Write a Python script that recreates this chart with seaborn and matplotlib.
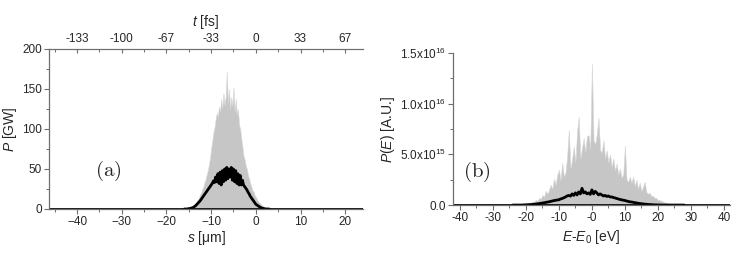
import numpy as np
import pandas as pd
import matplotlib
matplotlib.use("Agg")
import matplotlib.pyplot as plt
from matplotlib.ticker import MultipleLocator, FixedLocator
import seaborn as sns

# ----------------------------------------
# Dados
# ----------------------------------------
# (a) potência vs s, grade de -16 a 3 um, passo 0.25
s_start, s_step = -16.0, 0.25
p_gray = [0, 0, 0.5, 1, 1, 2, 2, 3, 4, 5,
          7, 9, 12, 14, 18, 20, 25, 28, 33, 37,
          43, 48, 56, 64, 76, 85, 96, 102, 112, 120,
          116, 128, 122, 138, 126, 145, 130, 140, 172, 132,
          150, 125, 140, 128, 152, 122, 138, 118, 125, 105,
          100, 88, 78, 66, 62, 54, 50, 42, 38, 32,
          28, 23, 22, 17, 15, 12, 10, 8, 7, 5,
          4, 2.5, 1.5, 1, 0.5, 0, 0]
p_mean = [0, 0, 0, 0.2, 0.4, 0.7, 1, 1.5, 2, 3,
          4, 5.5, 7, 8.5, 10, 12, 14, 16, 18, 20,
          22, 24, 26, 28, 30, 32, 35, 33, 40, 34,
          44, 32, 46, 30, 48, 34, 50, 36, 52, 38,
          50, 40, 52, 36, 50, 34, 48, 32, 44, 30,
          42, 30, 36, 30, 28, 26, 24, 21, 19, 16,
          14, 12, 10, 8, 6, 5, 4, 3, 2, 1.5,
          1, 0.6, 0.3, 0.1, 0, 0, 0]

# (b) espectro vs E-E0, grade de -24 a 28 eV, passo 0.5 (unidades de 1e15)
e_start, e_step = -24.0, 0.5
pe_gray = [0, 0, 0.05, 0.05, 0.1, 0.08, 0.15, 0.12, 0.2, 0.18,
           0.25, 0.2, 0.35, 0.3, 0.5, 0.4, 0.7, 0.6, 1.0, 0.8,
           1.4, 1.1, 1.5, 2.0, 1.6, 2.6, 2.0, 3.0, 3.5, 2.4,
           4.2, 2.8, 3.2, 4.8, 7.4, 3.6, 4.5, 5.8, 4.2, 7.2,
           8.7, 4.6, 5.6, 6.6, 5.2, 6.8, 6.9, 5.6, 14.0, 6.4,
           6.0, 7.0, 8.6, 5.4, 5.2, 6.4, 4.6, 5.4, 4.2, 5.0,
           3.8, 4.6, 3.4, 4.1, 3.0, 3.6, 2.7, 3.0, 5.9, 2.5,
           2.3, 2.8, 2.2, 2.8, 1.9, 2.5, 1.6, 2.2, 1.4, 1.8,
           2.3, 1.3, 1.1, 1.2, 0.9, 0.9, 0.7, 0.7, 0.5, 0.5,
           0.4, 0.35, 0.25, 0.25, 0.18, 0.14, 0.1, 0.08, 0.05, 0.04,
           0.02, 0, 0, 0, 0]
pe_mean = [0, 0, 0, 0, 0, 0, 0.01, 0.01, 0.02, 0.03,
           0.04, 0.05, 0.06, 0.08, 0.1, 0.12, 0.14, 0.17, 0.2, 0.23,
           0.26, 0.29, 0.32, 0.36, 0.4, 0.44, 0.47, 0.5, 0.52, 0.6,
           0.65, 0.72, 0.8, 0.9, 0.95, 0.88, 1.1, 0.95, 1.2, 1.0,
           1.3, 1.1, 1.65, 1.2, 1.3, 1.1, 1.2, 1.05, 1.5, 1.1,
           1.35, 1.2, 1.0, 1.1, 1.0, 0.9, 0.95, 0.85, 0.9, 0.8,
           0.8, 0.75, 0.7, 0.65, 0.6, 0.55, 0.52, 0.48, 0.45, 0.4,
           0.36, 0.32, 0.3, 0.27, 0.24, 0.21, 0.18, 0.15, 0.13, 0.11,
           0.09, 0.08, 0.06, 0.05, 0.04, 0.03, 0.02, 0.02, 0.01, 0.01,
           0, 0, 0, 0, 0, 0, 0, 0, 0, 0,
           0, 0, 0, 0, 0]

s_ticks = [-40, -30, -20, -10, 0, 10, 20]
t_labels = ["-133", "-100", "-67", "-33", "0", "33", "67"]
e_ticks = [-40, -30, -20, -10, 0, 10, 20, 30, 40]
e_labels = ["-40", "-30", "-20", "-10", "-0", "10", "20", "30", "40"]
pe_yticks = [0, 5e15, 1e16, 1.5e16]
pe_ylabels = ["0.0", r"5.0x10$^{15}$", r"1.0x10$^{16}$", r"1.5x10$^{16}$"]

df_a = pd.DataFrame({"s": s_start + s_step * np.arange(len(p_gray)),
                     "gray": p_gray, "mean": p_mean})
df_b = pd.DataFrame({"E": e_start + e_step * np.arange(len(pe_gray)),
                     "gray": np.array(pe_gray) * 1e15,
                     "mean": np.array(pe_mean) * 1e15})

# ----------------------------------------
# Estilo
# ----------------------------------------
sns.set_style("ticks")
plt.rcParams["font.family"] = ["Liberation Sans", "DejaVu Sans"]
plt.rcParams["mathtext.fontset"] = "custom"
plt.rcParams["mathtext.rm"] = "Liberation Sans"
plt.rcParams["mathtext.it"] = "Liberation Sans:italic"
plt.rcParams["mathtext.bf"] = "Liberation Sans:bold"

fig = plt.figure(figsize=(7.47, 2.56), dpi=100)
ax1 = fig.add_axes([0.0656, 0.1836, 0.4204, 0.625])
ax2 = fig.add_axes([0.6064, 0.199, 0.3706, 0.594])

gray_fill = "#c6c6c6"
spine_col = "#6e6e6e"

def style_axis(ax):
    for side in ["left", "bottom"]:
        ax.spines[side].set_color(spine_col)
        ax.spines[side].set_linewidth(0.9)
    ax.tick_params(axis="both", which="major", direction="out", length=3.5,
                   width=0.8, color=spine_col, labelsize=8.5, pad=1.5)
    ax.tick_params(axis="both", which="minor", direction="out", length=2,
                   width=0.7, color=spine_col)

# ----------------------------------------
# (a)
# ----------------------------------------
ax1.fill_between(df_a["s"], 0, df_a["gray"], color=gray_fill, lw=0.4,
                 edgecolor="#d8d8d8")
ax1.axhline(0, color="black", lw=2)
sns.lineplot(data=df_a, x="s", y="mean", ax=ax1, color="black", lw=2)
ax1.set_xlim(-46.3, 24)
ax1.set_ylim(0, 200)
ax1.set_xticks(s_ticks)
ax1.xaxis.set_minor_locator(MultipleLocator(5))
ax1.set_yticks([0, 50, 100, 150, 200])
ax1.yaxis.set_minor_locator(MultipleLocator(25))
sns.despine(ax=ax1, top=False, right=True)
ax1.spines["top"].set_color(spine_col)
style_axis(ax1)
ax1.set_xlabel(r"$s$ [$\mathrm{\mu}$m]", fontsize=10, labelpad=1)
ax1.set_ylabel(r"$P$ [GW]", fontsize=10, labelpad=2)
ax1.text(-33, 47, r"$\mathrm{(a)}$", math_fontfamily="cm", fontsize=15,
         ha="center", va="center")

ax1t = ax1.twiny()
ax1t.set_xlim(ax1.get_xlim())
ax1t.set_xticks(s_ticks)
ax1t.set_xticklabels(t_labels)
ax1t.xaxis.set_minor_locator(MultipleLocator(5))
for side in ["left", "right", "bottom"]:
    ax1t.spines[side].set_visible(False)
ax1t.spines["top"].set_color(spine_col)
ax1t.tick_params(axis="x", which="major", direction="in", length=3, width=0.8,
                 color=spine_col, labelsize=8.5, pad=3)
ax1t.tick_params(axis="x", which="minor", direction="in", length=2, width=0.7,
                 color=spine_col)
ax1t.set_xlabel(r"$t$ [fs]", fontsize=10, labelpad=5)

# ----------------------------------------
# (b)
# ----------------------------------------
ax2.fill_between(df_b["E"], 0, df_b["gray"], color=gray_fill, lw=0.4,
                 edgecolor="#d8d8d8")
ax2.axhline(0, color="black", lw=2)
sns.lineplot(data=df_b, x="E", y="mean", ax=ax2, color="black", lw=2)
ax2.set_xlim(-42.1, 41.8)
ax2.set_ylim(0, 1.5e16)
ax2.set_xticks(e_ticks)
ax2.set_xticklabels(e_labels)
ax2.xaxis.set_minor_locator(MultipleLocator(5))
ax2.yaxis.set_major_locator(FixedLocator(pe_yticks))
ax2.set_yticklabels(pe_ylabels)
ax2.yaxis.set_minor_locator(MultipleLocator(2.5e15))
sns.despine(ax=ax2)
style_axis(ax2)
ax2.set_xlabel(r"$E$-$E_0$ [eV]", fontsize=10, labelpad=3)
ax2.set_ylabel(r"$P(E)$ [A.U.]", fontsize=10, labelpad=2)
ax2.text(-35, 3.3e15, r"$\mathrm{(b)}$", math_fontfamily="cm", fontsize=15,
         ha="center", va="center")

fig.savefig("out.png", dpi=100)
